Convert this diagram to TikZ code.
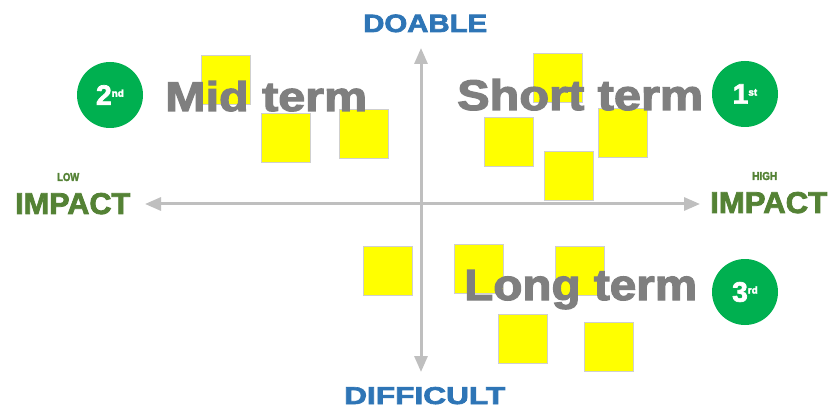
\documentclass[tikz,border=0pt]{standalone}
\usepackage{fontspec}
\setmainfont{Liberation Sans}
\newfontfamily\heavy{Liberation Sans Bold}[FakeBold=2.6]
\usetikzlibrary{arrows.meta}

\definecolor{axisgray}{HTML}{BFBFBF}
\definecolor{termgray}{HTML}{7F7F7F}
\definecolor{axisblue}{HTML}{2E75B6}
\definecolor{impactgreen}{HTML}{548235}
\definecolor{rankgreen}{HTML}{00B050}
\definecolor{notefill}{HTML}{FFFF00}
\definecolor{noteedge}{HTML}{CFCFCF}

% heavy sans text stretched to a given width and height (in pt)
\newcommand{\fitted}[3]{\resizebox{#1pt}{#2pt}{\fontsize{20}{20}\selectfont\heavy #3}}
% rank number with a raised suffix
\newcommand{\rankmark}[2]{{\fontsize{28}{28}\selectfont\heavy #1\raisebox{8pt}{\fontsize{10}{10}\selectfont #2}}}

\tikzset{
  lbl/.style={inner sep=0pt, anchor=base west},
  note/.style={draw=noteedge, line width=0.6pt, fill=notefill,
               minimum size=49pt, inner sep=0pt},
  axis/.style={draw=axisgray, line width=3pt,
               {Triangle[length=16pt,width=13pt]}-{Triangle[length=16pt,width=13pt]}},
  rank/.style={circle, fill=rankgreen, minimum size=66pt, inner sep=0pt,
               text=white},
}

\begin{document}
\begin{tikzpicture}[x=1pt, y=-1pt]
  \useasboundingbox[fill=white] (0,0) rectangle (828,409);

  % sticky notes
  \node[note] (n1)  at (226,79.5) {};
  \node[note] (n2)  at (286,138) {};
  \node[note] (n3)  at (363.5,133.5) {};
  \node[note] (n4)  at (557.5,77.5) {};
  \node[note] (n5)  at (508.5,142) {};
  \node[note] (n6)  at (623,133) {};
  \node[note] (n7)  at (568.5,176) {};
  \node[note] (n8)  at (387.5,271) {};
  \node[note] (n9)  at (479,268.5) {};
  \node[note] (n10) at (579.5,271) {};
  \node[note] (n11) at (522.5,339) {};
  \node[note] (n12) at (609,347) {};

  % axes
  \coordinate (ytop) at (421,48);
  \coordinate (ybot) at (421,372);
  \coordinate (xleft) at (145,204);
  \coordinate (xright) at (700,204);
  \draw[axis] (ytop) -- (ybot);
  \draw[axis] (xleft) -- (xright);

  % axis labels
  \node[lbl, text=axisblue] (doable) at (363,32) {\fitted{124}{17.5}{DOABLE}};
  \node[lbl, text=axisblue] (difficult) at (344,404) {\fitted{161}{17}{DIFFICULT}};
  \node[lbl, text=impactgreen] (low) at (57,181) {\fitted{22}{8}{LOW}};
  \node[lbl, text=impactgreen] (impl) at (15,214) {\fitted{115}{21}{IMPACT}};
  \node[lbl, text=impactgreen] (high) at (752,180) {\fitted{25}{8}{HIGH}};
  \node[lbl, text=impactgreen] (impr) at (710,213) {\fitted{117}{21}{IMPACT}};

  % quadrant titles
  \node[lbl, text=termgray] (mid) at (165,111) {\fitted{202}{30}{Mid term}};
  \node[lbl, text=termgray] (short) at (457,110) {\fitted{246}{31}{Short term}};
  \node[lbl, text=termgray] (long) at (464,300) {\fitted{233}{30}{Long term}};

  % rank badges
  \node[rank] (r2) at (110,95) {\rankmark{2}{nd}};
  \node[rank] (r1) at (745,94) {\rankmark{1}{st}};
  \node[rank] (r3) at (745,292) {\rankmark{3}{rd}};
\end{tikzpicture}
\end{document}
